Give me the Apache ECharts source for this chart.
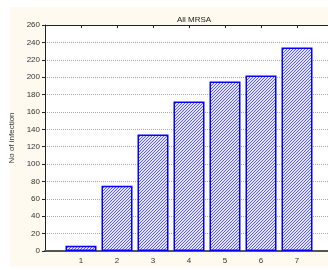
<!DOCTYPE html>
<html>
<head>
<meta charset="utf-8">
<script src="https://cdn.jsdelivr.net/npm/echarts@6/dist/echarts.min.js"></script>
<style>
  html, body { margin: 0; padding: 0; background: #ffffff; }
  #main { width: 328px; height: 270px; }
</style>
</head>
<body>
<div id="main"></div>
<script>
// data
let groups = [1, 2, 3, 4, 5, 6, 7];
let infections = [6, 75, 134, 172, 195, 202, 234];
let yTicks = [0, 20, 40, 60, 80, 100, 120, 140, 160, 180, 200, 220, 240, 260];

// hatch fill like the old statistica bars
function hatch() {
    let c = document.createElement('canvas');
    c.width = 3; c.height = 3;
    let ctx = c.getContext('2d');
    ctx.fillStyle = '#e4e6ff';
    ctx.fillRect(0, 0, 3, 3);
    ctx.fillStyle = '#5a5aff';
    // one pixel per row, shifted -> diagonal "/"
    ctx.fillRect(2, 0, 1, 1);
    ctx.fillRect(1, 1, 1, 1);
    ctx.fillRect(0, 2, 1, 1);
    return c;
}

let myChart = echarts.init(document.getElementById('main'));
let option = {
    backgroundColor: '#ffffff',
    animation: false,
    textStyle: { fontFamily: 'Liberation Sans, Arial, sans-serif' },
    graphic: [{
        type: 'rect',
        z: -10,
        shape: { x: 10, y: 7, width: 330, height: 260 },
        style: { fill: '#fefaf0' }
    }],
    title: {
        text: 'All MRSA',
        left: 189,
        textAlign: 'center',
        top: 11,
        textStyle: { fontSize: 8, fontWeight: 'normal', color: '#222' }
    },
    grid: {
        left: 45,
        right: -5,
        top: 25,
        bottom: 19,
        outerBoundsMode: 'none',
        containLabel: false,
        show: true,
        backgroundColor: '#ffffff',
        borderWidth: 0
    },
    xAxis: [{
        type: 'value',
        min: 0,
        max: 8,
        interval: 1,
        name: 'Year',
        nameLocation: 'middle',
        nameGap: 17,
        nameTextStyle: { fontSize: 8, color: '#bbb' },
        axisLine: { lineStyle: { color: '#555', width: 2 } },
        axisTick: { show: false },
        splitLine: { show: false },
        axisLabel: {
            fontSize: 8,
            color: '#333',
            margin: 6,
            formatter: function (v) { return groups.indexOf(v) >= 0 ? v : ''; }
        }
    }, {
        type: 'value',
        position: 'top',
        min: 0,
        max: 8,
        interval: 1,
        axisLine: { show: true, lineStyle: { color: '#222', width: 1 } },
        axisTick: { show: true, inside: true, length: 3, lineStyle: { color: '#222' } },
        axisLabel: { show: false },
        splitLine: { show: false }
    }],
    yAxis: {
        type: 'value',
        min: yTicks[0],
        max: yTicks[yTicks.length - 1],
        interval: 20,
        name: 'No of infection',
        nameLocation: 'middle',
        nameGap: 21,
        nameTextStyle: { fontSize: 8, color: '#333' },
        axisLine: { show: true, lineStyle: { color: '#222', width: 1 } },
        axisTick: { show: true, length: 3, lineStyle: { color: '#222' } },
        axisLabel: { fontSize: 8, color: '#333', margin: 5 },
        splitLine: { show: true, lineStyle: { color: '#aaa', type: [1, 1], width: 1 } }
    },
    series: [{
        type: 'bar',
        barWidth: 31,
        data: groups.map(function (g, i) { return [g, infections[i]]; }),
        itemStyle: {
            color: { image: hatch(), repeat: 'repeat' },
            borderColor: '#0000ff',
            borderWidth: 1.5
        }
    }]
};
myChart.setOption(option);
</script>
</body>
</html>
